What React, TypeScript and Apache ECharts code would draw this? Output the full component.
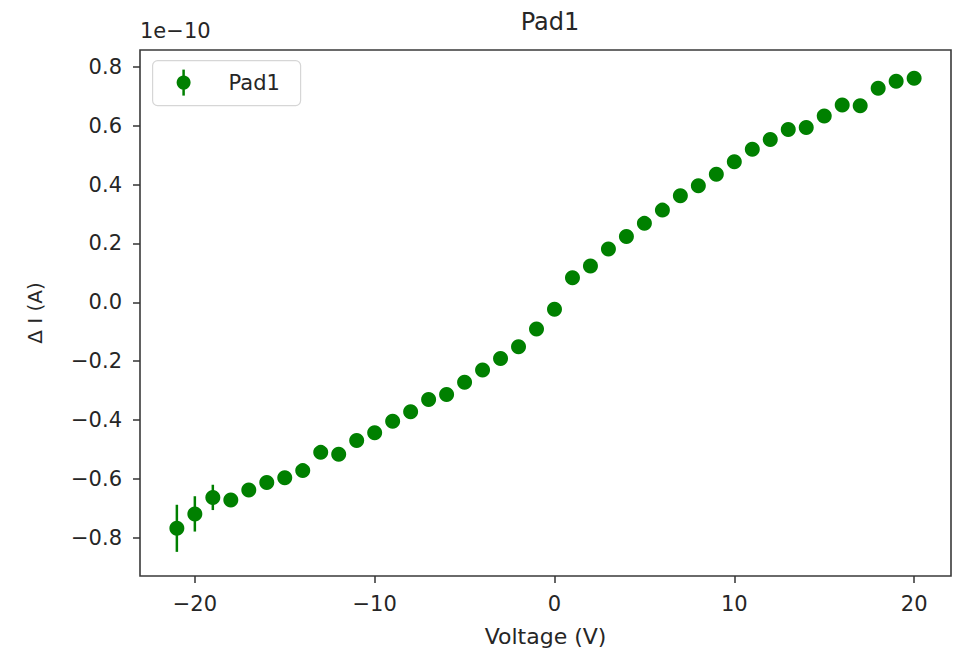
import React, { useEffect, useRef } from "react";
import * as echarts from "echarts";

// Bias voltage sweep (V)
const voltages = [
  -21, -20, -19, -18, -17, -16, -15, -14, -13, -12, -11, -10, -9, -8, -7, -6, -5, -4, -3, -2, -1,
  0, 1, 2, 3, 4, 5, 6, 7, 8, 9, 10, 11, 12, 13, 14, 15, 16, 17, 18, 19, 20,
];

// Current difference, in units of 1e-10 A
const deltaI = [
  -0.768, -0.719, -0.663, -0.672, -0.638, -0.612, -0.596, -0.572, -0.51, -0.516, -0.47,
  -0.443, -0.404, -0.372, -0.33, -0.313, -0.272, -0.23, -0.191, -0.151, -0.091,
  -0.024, 0.083, 0.123, 0.181, 0.223, 0.268, 0.313, 0.362, 0.396, 0.435,
  0.477, 0.52, 0.553, 0.587, 0.594, 0.633, 0.67, 0.668, 0.727, 0.751, 0.761,
];

// Standard error of each point, same units
const errors = [
  0.08, 0.06, 0.043, 0.02, 0.015, 0.012, 0.012, 0.01, 0.01, 0.01, 0.01,
  0.01, 0.01, 0.01, 0.01, 0.01, 0.01, 0.01, 0.01, 0.01, 0.01,
  0.01, 0.01, 0.01, 0.01, 0.01, 0.01, 0.01, 0.01, 0.01, 0.01,
  0.01, 0.01, 0.01, 0.01, 0.01, 0.01, 0.01, 0.01, 0.01, 0.01, 0.01,
];

const xTicks = [-20, -10, 0, 10, 20];
const yTicks = [-0.8, -0.6, -0.4, -0.2, 0, 0.2, 0.4, 0.6, 0.8];

const seriesName = "Pad1";
const titleText = "Pad1";
const xLabel = "Voltage (V)";
const yLabel = "Δ I (A)";
const offsetText = "1e\u221210";

const GREEN = "#008000";
const INK = "#262626";
const FONT = "DejaVu Sans";

const fmtMinus = (s: string) => s.replace("-", "\u2212");

export default function App() {
  const ref = useRef<HTMLDivElement>(null);

  useEffect(() => {
    document.body.style.margin = "0";
    if (!ref.current) return;
    const chart = echarts.init(ref.current, null, { renderer: "svg" });

    const points = voltages.map((v, i) => [v, deltaI[i], errors[i]]);

    chart.setOption({
      animation: false,
      backgroundColor: "#ffffff",
      textStyle: { fontFamily: FONT },
      title: {
        text: titleText,
        left: 545,
        top: 5,
        textAlign: "center",
        textStyle: { fontFamily: FONT, fontSize: 24, fontWeight: "normal", color: INK },
      },
      grid: {
        left: 140,
        top: 50,
        right: 3,
        bottom: 75,
        outerBoundsMode: "none",
        containLabel: false,
        show: true,
        borderColor: "#3a3a3a",
        borderWidth: 1.6,
        backgroundColor: "#ffffff",
      },
      xAxis: {
        type: "value",
        min: -23.05,
        max: 22.05,
        name: xLabel,
        nameLocation: "middle",
        nameGap: 49,
        nameTextStyle: { fontFamily: FONT, fontSize: 22, color: INK },
        axisLine: { show: false, onZero: false },
        splitLine: { show: false },
        axisTick: {
          show: true,
          length: 7,
          customValues: xTicks,
          lineStyle: { color: "#333", width: 1.5 },
        },
        axisLabel: {
          customValues: xTicks,
          margin: 17,
          fontFamily: FONT,
          fontSize: 21,
          color: INK,
          formatter: (v: number) => fmtMinus(String(v)),
        },
      },
      yAxis: {
        type: "value",
        min: -0.93,
        max: 0.857,
        name: yLabel,
        nameLocation: "middle",
        nameGap: 95,
        nameRotate: 90,
        nameTextStyle: { fontFamily: FONT, fontSize: 20, color: INK },
        axisLine: { show: false, onZero: false },
        splitLine: { show: false },
        axisTick: {
          show: true,
          length: 7,
          customValues: yTicks,
          lineStyle: { color: "#333", width: 1.5 },
        },
        axisLabel: {
          customValues: yTicks,
          margin: 18,
          fontFamily: FONT,
          fontSize: 21,
          color: INK,
          formatter: (v: number) => fmtMinus(v.toFixed(1)),
        },
      },
      graphic: [
        {
          type: "text",
          left: 140,
          top: 20,
          style: { text: offsetText, fontFamily: FONT, fontSize: 21, fill: INK },
        },
        {
          type: "group",
          left: 152,
          top: 60,
          children: [
            {
              type: "rect",
              shape: { x: 0, y: 0, width: 148, height: 45, r: 5 },
              style: { fill: "rgba(255,255,255,0.85)", stroke: "#d6d6d6", lineWidth: 1.2 },
            },
            {
              type: "line",
              shape: { x1: 31, y1: 9, x2: 31, y2: 35 },
              style: { stroke: GREEN, lineWidth: 2.5 },
            },
            {
              type: "circle",
              shape: { cx: 31, cy: 22, r: 7 },
              style: { fill: GREEN },
            },
            {
              type: "text",
              x: 76,
              y: 22,
              style: {
                text: seriesName,
                fontFamily: FONT,
                fontSize: 21,
                fill: INK,
                verticalAlign: "middle",
              },
            },
          ],
        },
      ],
      series: [
        {
          name: seriesName + " error",
          type: "custom",
          data: points,
          encode: { x: 0, y: 1 },
          z: 1,
          renderItem: (_params: any, api: any) => {
            const x = api.value(0);
            const y = api.value(1);
            const e = api.value(2);
            const top = api.coord([x, y + e]);
            const bot = api.coord([x, y - e]);
            return {
              type: "line",
              shape: { x1: top[0], y1: top[1], x2: bot[0], y2: bot[1] },
              style: { stroke: GREEN, lineWidth: 2.5 },
            };
          },
        },
        {
          name: seriesName,
          type: "scatter",
          data: points.map((p) => [p[0], p[1]]),
          symbol: "circle",
          symbolSize: 15,
          z: 2,
          itemStyle: { color: GREEN, opacity: 1 },
        },
      ],
    });

    return () => chart.dispose();
  }, []);

  return <div ref={ref} style={{ width: 954, height: 651 }} />;
}
